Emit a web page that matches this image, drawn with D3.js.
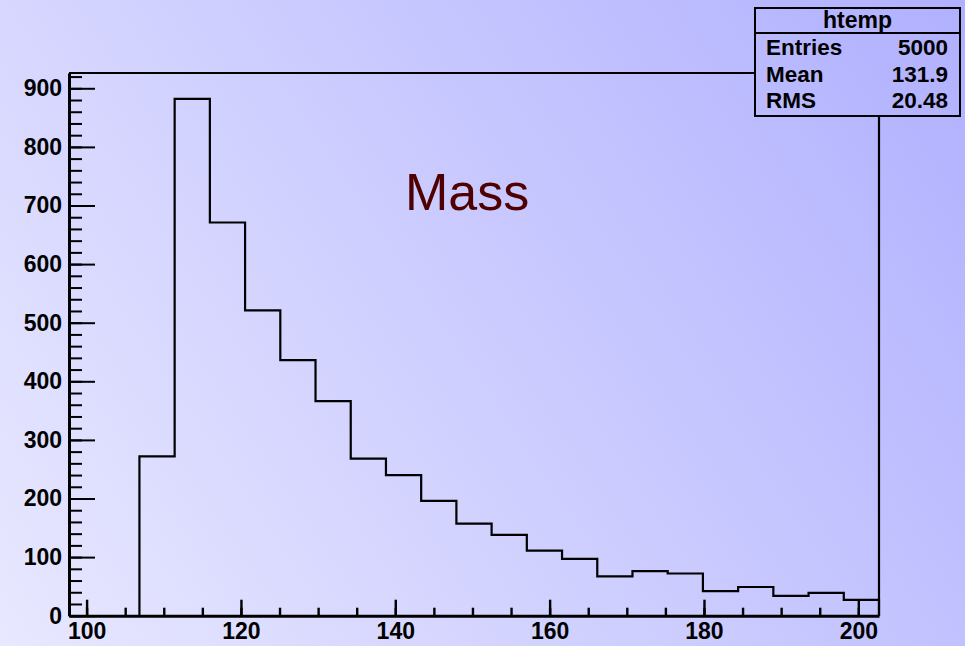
<!DOCTYPE html>
<html>
<head>
<meta charset="utf-8">
<script src="https://cdn.jsdelivr.net/npm/d3@7/dist/d3.min.js"></script>
<style>
  html, body { margin: 0; padding: 0; overflow: hidden; }
  svg { display: block; }
  text { font-family: "Liberation Sans", Arial, Helvetica, sans-serif; }
</style>
</head>
<body>
<svg id="chart" width="965" height="646"></svg>
<script>
// Histogram of "Mass": equal-width bins spanning the x range below
const xRange = [97.72, 202.68];
const counts = [0, 0, 272, 882, 671, 521, 436, 366, 268, 240, 196, 157, 138, 111, 97, 67, 76, 72, 42, 49, 34, 39, 27];
const xTicksMajor = [100, 120, 140, 160, 180, 200];
const yTicksMajor = [0, 100, 200, 300, 400, 500, 600, 700, 800, 900];
const histTitle = "Mass";
const statsName = "htemp";
const statsLabels = ["Entries", "Mean", "RMS"];
const statsValues = ["5000", "131.9", "20.48"];

const W = 965, H = 646;
const frame = { left: 69, right: 879, top: 73, bottom: 615.7 };

const svg = d3.select("#chart");
const defs = svg.append("defs");
const grad = defs.append("linearGradient")
  .attr("id", "bg").attr("gradientUnits", "userSpaceOnUse")
  .attr("x1", 0).attr("y1", H).attr("x2", W).attr("y2", 0);
grad.append("stop").attr("offset", 0).attr("stop-color", "#e8e8ff");
grad.append("stop").attr("offset", 1).attr("stop-color", "#b0b0ff");

svg.append("rect").attr("width", W).attr("height", H).attr("fill", "url(#bg)");

const yMax = d3.max(counts) * 1.05;
const x = d3.scaleLinear().domain(xRange).range([frame.left, frame.right]);
const y = d3.scaleLinear().domain([0, yMax]).range([frame.bottom, frame.top]);

// Bin edges
const binW = (xRange[1] - xRange[0]) / counts.length;
const bins = counts.map((c, i) => ({ x0: xRange[0] + i * binW, x1: xRange[0] + (i + 1) * binW, c }));

// Step outline of the histogram
let pts = [];
bins.forEach((b, i) => {
  const prev = i === 0 ? 0 : bins[i - 1].c;
  if (b.c === 0 && prev === 0) return;
  pts.push([x(b.x0), y(prev)]);
  pts.push([x(b.x0), y(b.c)]);
  pts.push([x(b.x1), y(b.c)]);
});
const last = bins[bins.length - 1];
pts.push([x(last.x1), y(0)]);
svg.append("path")
  .attr("d", d3.line()(pts))
  .attr("fill", "none").attr("stroke", "#000").attr("stroke-width", 2.2)
  .attr("stroke-linejoin", "miter");

// Frame (top and right)
svg.append("path")
  .attr("d", d3.line()([[x(xRange[0]), y(yMax)], [x(xRange[1]), y(yMax)], [x(xRange[1]), y(0)]]))
  .attr("fill", "none").attr("stroke", "#000").attr("stroke-width", 2.2);

const labelFont = g => g.selectAll("text")
  .attr("font-size", 23).attr("font-weight", "bold").attr("fill", "#000");

// Y axis: minor and major ticks, drawn inward
svg.append("g").attr("transform", `translate(${frame.left},0)`)
  .call(d3.axisLeft(y).tickValues(d3.range(0, yMax, 20)).tickSize(-13).tickFormat(""))
  .call(g => g.select(".domain").remove())
  .call(g => g.selectAll("line").attr("stroke-width", 2));
svg.append("g").attr("transform", `translate(${frame.left},0)`)
  .call(d3.axisLeft(y).tickValues(yTicksMajor).tickSize(-26).tickPadding(7).tickSizeOuter(0))
  .call(g => g.select(".domain").attr("stroke-width", 3))
  .call(g => g.selectAll("line").attr("stroke-width", 2))
  .call(labelFont);

// X axis
svg.append("g").attr("transform", `translate(0,${frame.bottom})`)
  .call(d3.axisBottom(x).tickValues(d3.range(100, xRange[1], 5)).tickSize(-8).tickFormat(""))
  .call(g => g.select(".domain").remove())
  .call(g => g.selectAll("line").attr("stroke-width", 2.4));
svg.append("g").attr("transform", `translate(0,${frame.bottom})`)
  .call(d3.axisBottom(x).tickValues(xTicksMajor).tickSize(-16).tickPadding(7).tickSizeOuter(0))
  .call(g => g.select(".domain").attr("stroke-width", 3))
  .call(g => g.selectAll("line").attr("stroke-width", 2.4))
  .call(labelFont);

// Title
svg.append("text").attr("x", 405).attr("y", 210)
  .attr("font-size", 52).attr("fill", "#4f0000").text(histTitle);

// Statistics box
const box = { x: 755, y: 8, w: 205, h: 108, head: 25 };
const sb = svg.append("g");
sb.append("rect").attr("x", box.x).attr("y", box.y).attr("width", box.w).attr("height", box.h)
  .attr("fill", "url(#bg)").attr("stroke", "#000").attr("stroke-width", 2);
sb.append("line").attr("x1", box.x).attr("x2", box.x + box.w)
  .attr("y1", box.y + box.head).attr("y2", box.y + box.head)
  .attr("stroke", "#000").attr("stroke-width", 2);
sb.append("text").attr("x", box.x + box.w / 2).attr("y", box.y + 20)
  .attr("text-anchor", "middle").attr("font-size", 23).attr("font-weight", "bold").text(statsName);
statsLabels.forEach((lab, i) => {
  const yy = box.y + box.head + 22 + i * 26.5;
  sb.append("text").attr("x", box.x + 11).attr("y", yy)
    .attr("font-size", 22.5).attr("font-weight", "bold").text(lab);
  sb.append("text").attr("x", box.x + box.w - 12).attr("y", yy).attr("text-anchor", "end")
    .attr("font-size", 22.5).attr("font-weight", "bold").text(statsValues[i]);
});
</script>
</body>
</html>
